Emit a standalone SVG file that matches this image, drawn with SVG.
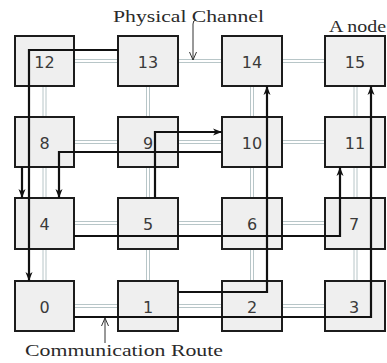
<svg xmlns="http://www.w3.org/2000/svg" width="387" height="363" viewBox="0 0 387 363">
<style>
.bg{fill:#ffffff}
.ch{stroke:#b8c6c8;stroke-width:1;fill:none}
.node rect{fill:#efefef;stroke:#1c1c1c;stroke-width:2}
.node text{font-family:"DejaVu Sans",sans-serif;font-size:16px;fill:#3a3a3a;text-anchor:middle}
.rt{stroke:#111;stroke-width:2.2;fill:none;marker-end:url(#ah)}
.lbl{font-family:"Liberation Serif",serif;font-size:17px;fill:#2a2a2a}
.pt{stroke:#333;stroke-width:1;fill:none;marker-end:url(#oh)}
</style>
<defs>
<marker id="ah" markerUnits="userSpaceOnUse" markerWidth="10" markerHeight="10" refX="9" refY="5" orient="auto">
<path d="M0,1.5 L9,5 L0,8.5 L2.5,5 Z" fill="#111"/>
</marker>
<marker id="oh" markerUnits="userSpaceOnUse" markerWidth="10" markerHeight="10" refX="9" refY="5" orient="auto">
<path d="M1,1.5 L9,5 L1,8.5" fill="none" stroke="#333" stroke-width="1"/>
</marker>
</defs>
<rect class="bg" width="387" height="363"/>
<g id="channels">
<path class="ch" d="M74,59.5H118M74,62.5H118M178,59.5H222M178,62.5H222M282,59.5H325M282,62.5H325"/>
<path class="ch" d="M74,140.5H118M74,143.5H118M178,140.5H222M178,143.5H222M282,140.5H325M282,143.5H325"/>
<path class="ch" d="M74,221.5H118M74,224.5H118M178,221.5H222M178,224.5H222M282,221.5H325M282,224.5H325"/>
<path class="ch" d="M74,304.5H118M74,307.5H118M178,304.5H222M178,307.5H222M282,304.5H325M282,307.5H325"/>
<path class="ch" d="M43,86V117M46,86V117M146.5,86V117M149.5,86V117M250.5,86V117M253.5,86V117M354,86V117M357,86V117"/>
<path class="ch" d="M43,167V198M46,167V198M146.5,167V198M149.5,167V198M250.5,167V198M253.5,167V198M354,167V198M357,167V198"/>
<path class="ch" d="M43,249V281M46,249V281M146.5,249V281M149.5,249V281M250.5,249V281M253.5,249V281M354,249V281M357,249V281"/>
</g>
<g id="node12" class="node"><rect x="15" y="36" width="59" height="50"/><text x="44.5" y="67.5">12</text></g>
<g id="node13" class="node"><rect x="118" y="36" width="60" height="50"/><text x="148" y="67.5">13</text></g>
<g id="node14" class="node"><rect x="222" y="36" width="60" height="50"/><text x="252" y="67.5">14</text></g>
<g id="node15" class="node"><rect x="325" y="36" width="60" height="50"/><text x="355" y="67.5">15</text></g>
<g id="node8" class="node"><rect x="15" y="117" width="59" height="50"/><text x="44.5" y="148.5">8</text></g>
<g id="node9" class="node"><rect x="118" y="117" width="60" height="50"/><text x="148" y="148.5">9</text></g>
<g id="node10" class="node"><rect x="222" y="117" width="60" height="50"/><text x="252" y="148.5">10</text></g>
<g id="node11" class="node"><rect x="325" y="117" width="60" height="50"/><text x="355" y="148.5">11</text></g>
<g id="node4" class="node"><rect x="15" y="198" width="59" height="51"/><text x="44.5" y="229.5">4</text></g>
<g id="node5" class="node"><rect x="118" y="198" width="60" height="51"/><text x="148" y="229.5">5</text></g>
<g id="node6" class="node"><rect x="222" y="198" width="60" height="51"/><text x="252" y="229.5">6</text></g>
<g id="node7" class="node"><rect x="325" y="198" width="60" height="51"/><text x="354" y="229.5">7</text></g>
<g id="node0" class="node"><rect x="15" y="281" width="59" height="50"/><text x="44.5" y="312.5">0</text></g>
<g id="node1" class="node"><rect x="118" y="281" width="60" height="50"/><text x="148" y="312.5">1</text></g>
<g id="node2" class="node"><rect x="222" y="281" width="60" height="50"/><text x="252" y="312.5">2</text></g>
<g id="node3" class="node"><rect x="325" y="281" width="60" height="50"/><text x="354" y="312.5">3</text></g>
<g id="routes">
<path class="rt" d="M118,50H29V281"/>
<path class="rt" d="M22,167V198"/>
<path class="rt" d="M222,152H59V198"/>
<path class="rt" d="M155,198V132H222"/>
<path class="rt" d="M74,236H340V167"/>
<path class="rt" d="M178,292H267V86"/>
<path class="rt" d="M74,317H371V86"/>
</g>
<g id="labels">
<text class="lbl" x="113" y="22" textLength="151" lengthAdjust="spacingAndGlyphs">Physical Channel</text>
<path class="pt" d="M196,20Q193,20 193,24V60"/>
<text class="lbl" x="329" y="32" textLength="57" lengthAdjust="spacingAndGlyphs">A node</text>
<text class="lbl" x="25" y="356" textLength="198" lengthAdjust="spacingAndGlyphs">Communication Route</text>
<path class="pt" d="M105,343V318"/>
</g>
</svg>
